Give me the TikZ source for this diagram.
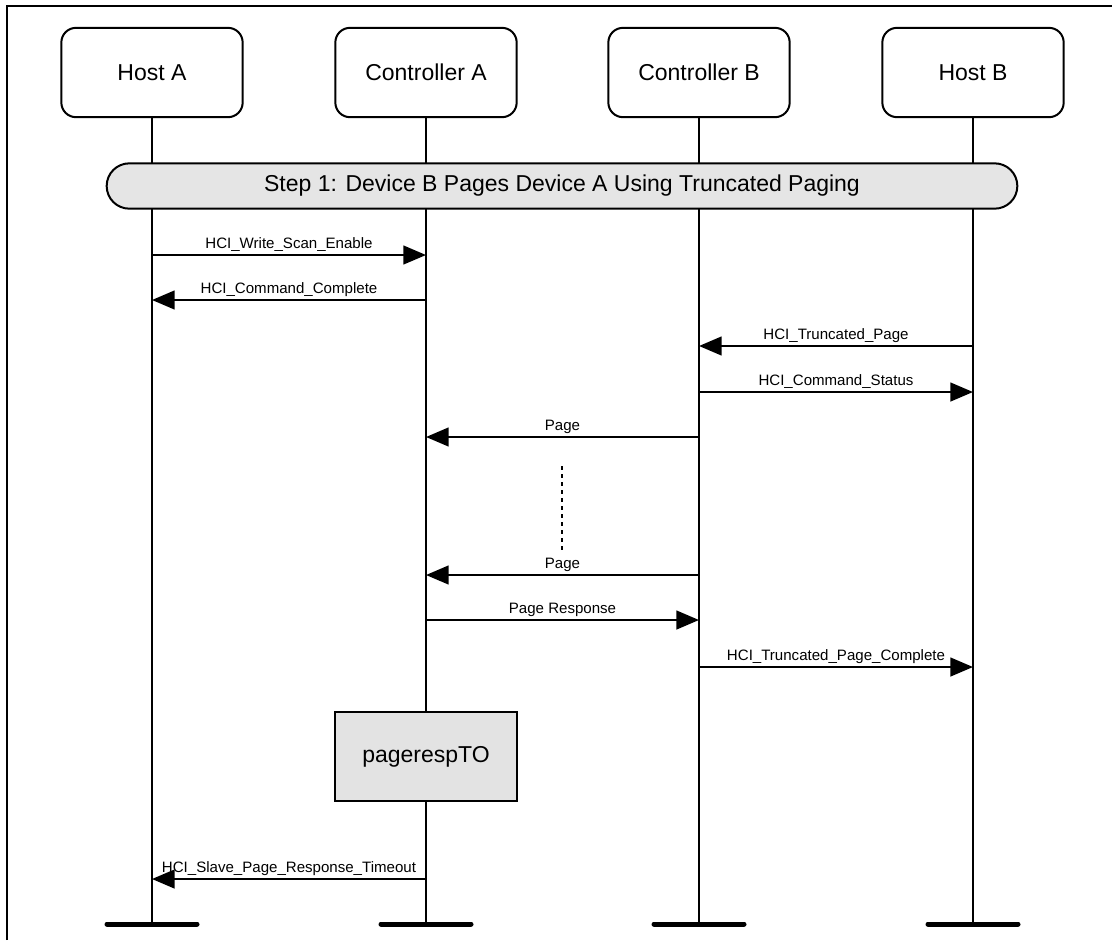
\documentclass[tikz,border=0pt]{standalone}
\usepackage{fontspec}
\setmainfont{Liberation Sans}
\usetikzlibrary{arrows.meta}
\tikzset{
  head/.style={draw,line width=1.5pt,rounded corners=11pt,minimum width=136pt,minimum height=67pt,font=\fontsize{17.25}{20}\selectfont},
  life/.style={line width=1.5pt},
  stepbar/.style={draw,fill=black!10,line width=1.5pt,rounded corners=17pt,minimum width=683pt,minimum height=34pt,font=\fontsize{17.25}{20}\selectfont},
  timer/.style={draw,fill=black!11,line width=1.5pt,minimum width=136pt,minimum height=67pt,font=\fontsize{17.25}{20}\selectfont},
  msg/.style={line width=1.8pt,-{Triangle[length=17pt,width=14pt]}},
  lbl/.style={above,inner sep=1.5pt,font=\fontsize{11.3}{13}\selectfont},
  endbar/.style={line width=3.75pt,line cap=round},
  gap/.style={line width=1.5pt,dash pattern=on 3pt off 3pt}
}

\begin{document}
\begin{tikzpicture}[x=0.75pt,y=-0.75pt]
\useasboundingbox (0,0) rectangle (1112,940);
\draw[line width=1.8pt] (7,940) -- (7,6) -- (1112,6);

% heads
\node[head] (hostA) at (152,72.5) {Host A};
\node[head] (ctrlA) at (426,72.5) {Controller A};
\node[head] (ctrlB) at (699,72.5) {Controller B};
\node[head] (hostB) at (973,72.5) {Host B};
\coordinate (hostAend) at (152,924);
\coordinate (ctrlAend) at (426,924);
\coordinate (ctrlBend) at (699,924);
\coordinate (hostBend) at (973,924);

% lifelines
\draw[life] (hostA) -- (hostAend);
\draw[life] (ctrlA) -- (ctrlAend);
\draw[life] (ctrlB) -- (ctrlBend);
\draw[life] (hostB) -- (hostBend);
\draw[endbar] (hostAend) ++(-45,0) -- ++(90,0);
\draw[endbar] (ctrlAend) ++(-45,0) -- ++(90,0);
\draw[endbar] (ctrlBend) ++(-45,0) -- ++(90,0);
\draw[endbar] (hostBend) ++(-45,0) -- ++(90,0);

\node[stepbar] (step1) at (562,186) {Step 1: Device B Pages Device A Using Truncated Paging};
\node[timer] (respTO) at (426,756.5) {pagerespTO};

% message rows
\coordinate (m1) at (0,255);
\coordinate (m2) at (0,300);
\coordinate (m3) at (0,346);
\coordinate (m4) at (0,392);
\coordinate (m5) at (0,437);
\coordinate (m6) at (0,575);
\coordinate (m7) at (0,620);
\coordinate (m8) at (0,667);
\coordinate (m9) at (0,879);

\draw[msg] (hostA |- m1) -- node[lbl] {HCI\_Write\_Scan\_Enable} (ctrlA |- m1);
\draw[msg] (ctrlA |- m2) -- node[lbl] {HCI\_Command\_Complete} (hostA |- m2);
\draw[msg] (hostB |- m3) -- node[lbl] {HCI\_Truncated\_Page} (ctrlB |- m3);
\draw[msg] (ctrlB |- m4) -- node[lbl] {HCI\_Command\_Status} (hostB |- m4);
\draw[msg] (ctrlB |- m5) -- node[lbl] {Page} (ctrlA |- m5);
\draw[msg] (ctrlB |- m6) -- node[lbl] (page2) {Page} (ctrlA |- m6);
\draw[msg] (ctrlA |- m7) -- node[lbl] {Page Response} (ctrlB |- m7);
\draw[msg] (ctrlB |- m8) -- node[lbl] {HCI\_Truncated\_Page\_Complete} (hostB |- m8);
\draw[msg] (respTO.south |- m9) -- node[lbl] {HCI\_Slave\_Page\_Response\_Timeout} (hostA |- m9);

% repeated pages
\coordinate (gapTop) at (562,466);
\coordinate (gapBot) at (562,550);
\draw[gap] (gapTop) -- (gapBot);
\end{tikzpicture}
\end{document}
